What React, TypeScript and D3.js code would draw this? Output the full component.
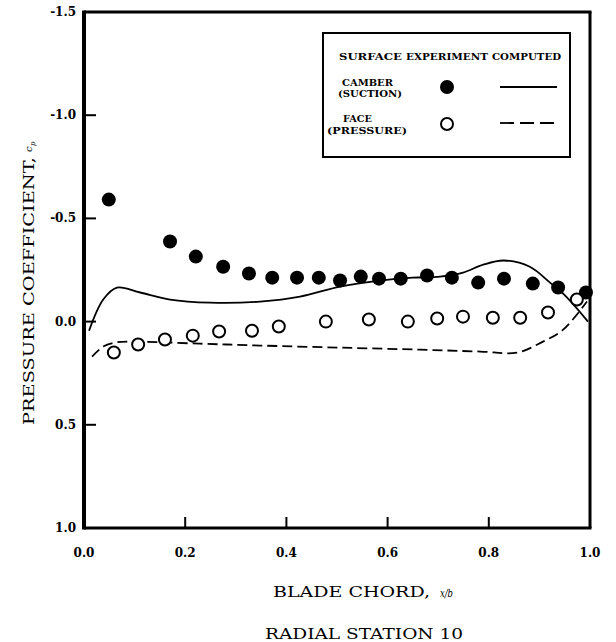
import React from "react";
import * as d3 from "d3";

// experiment, camber (suction) side - filled dots
const camberExpX = [0.049, 0.17, 0.221, 0.275, 0.326, 0.372, 0.421, 0.464, 0.506, 0.547, 0.583, 0.626, 0.678, 0.727, 0.779, 0.83, 0.887, 0.937, 0.992];
const camberExpCp = [-0.591, -0.388, -0.315, -0.266, -0.233, -0.213, -0.213, -0.213, -0.199, -0.218, -0.208, -0.208, -0.223, -0.213, -0.189, -0.208, -0.184, -0.165, -0.141];

// experiment, face (pressure) side - open dots
const faceExpX = [0.059, 0.107, 0.16, 0.215, 0.267, 0.332, 0.385, 0.478, 0.563, 0.64, 0.698, 0.749, 0.808, 0.862, 0.917, 0.974];
const faceExpCp = [0.15, 0.111, 0.087, 0.068, 0.048, 0.044, 0.024, 0.0, -0.01, 0.0, -0.015, -0.024, -0.019, -0.019, -0.044, -0.107];

// computed curves
const camberCompX = [0.01, 0.038, 0.065, 0.111, 0.17, 0.249, 0.348, 0.427, 0.506, 0.585, 0.65, 0.704, 0.749, 0.789, 0.83, 0.881, 0.921, 0.951, 0.996];
const camberCompCp = [0.044, -0.107, -0.165, -0.141, -0.107, -0.092, -0.097, -0.121, -0.17, -0.199, -0.213, -0.218, -0.237, -0.276, -0.296, -0.266, -0.189, -0.126, 0.0];

const faceCompX = [0.016, 0.038, 0.061, 0.091, 0.229, 0.348, 0.506, 0.664, 0.783, 0.856, 0.907, 0.947, 0.994];
const faceCompCp = [0.17, 0.121, 0.102, 0.097, 0.107, 0.116, 0.126, 0.136, 0.145, 0.15, 0.097, 0.039, -0.097];

const xTicks = [0, 0.2, 0.4, 0.6, 0.8, 1.0];
const yTicks = [-1.5, -1.0, -0.5, 0.0, 0.5, 1.0];

const serif = "'DejaVu Serif', serif";

const App = () => {
  const width = 616;
  const height = 642;

  const x = d3.scaleLinear().domain([0, 1]).range([84, 590]);
  const y = d3.scaleLinear().domain([-1.5, 1.0]).range([12, 528]);

  const line = d3
    .line<[number, number]>()
    .x((d) => x(d[0]))
    .y((d) => y(d[1]))
    .curve(d3.curveCatmullRom.alpha(0.5));

  const camberLine = line(camberCompX.map((v, i) => [v, camberCompCp[i]]));
  const faceLine = line(faceCompX.map((v, i) => [v, faceCompCp[i]]));

  const x0 = x(0), x1 = x(1), yTop = y(-1.5), yBot = y(1.0);

  return (
    <svg width={width} height={height} style={{ position: "absolute", left: 0, top: 0, background: "#fff" }}>
      <rect width={width} height={height} fill="#fff" />

      {/* computed curves */}
      <path d={camberLine || ""} fill="none" stroke="#000" strokeWidth={1.8} />
      <path d={faceLine || ""} fill="none" stroke="#000" strokeWidth={1.8} strokeDasharray="10 5" />

      {/* experiment points */}
      {camberExpX.map((v, i) => (
        <circle key={"c" + i} cx={x(v)} cy={y(camberExpCp[i])} r={7} fill="#000" />
      ))}
      {faceExpX.map((v, i) => (
        <circle key={"f" + i} cx={x(v)} cy={y(faceExpCp[i])} r={6} fill="#fff" stroke="#000" strokeWidth={2} />
      ))}

      {/* frame */}
      <line x1={x0} x2={x0} y1={yTop - 1.5} y2={yBot + 1.5} stroke="#000" strokeWidth={4} />
      <line x1={x0} x2={x1 + 1.5} y1={yTop} y2={yTop} stroke="#000" strokeWidth={3} />
      <line x1={x0} x2={x1 + 1.5} y1={yBot} y2={yBot} stroke="#000" strokeWidth={3} />
      <line x1={x1} x2={x1} y1={yTop} y2={yBot} stroke="#000" strokeWidth={3} />

      {/* y ticks */}
      {yTicks.map((t) => (
        <g key={"yt" + t}>
          {t > -1.5 && t < 1.0 && (
            <line x1={x0} x2={x0 + 12} y1={y(t)} y2={y(t)} stroke="#000" strokeWidth={2} />
          )}
          <text x={x0 - 8} y={y(t) + 4} textAnchor="end" fontFamily={serif} fontWeight="bold" fontSize={12}>
            {t.toFixed(1)}
          </text>
        </g>
      ))}

      {/* x ticks */}
      {xTicks.map((t) => (
        <g key={"xt" + t}>
          {t > 0 && t < 1 && (
            <line x1={x(t)} x2={x(t)} y1={yBot} y2={yBot - 11} stroke="#000" strokeWidth={2} />
          )}
          <text x={x(t)} y={557} textAnchor="middle" fontFamily={serif} fontWeight="bold" fontSize={12}>
            {t.toFixed(1)}
          </text>
        </g>
      ))}

      {/* axis titles */}
      <g transform="translate(34,291) rotate(-90)">
        <text x={0} y={0} textAnchor="middle" fontFamily={serif} fontSize={14} textLength={268} lengthAdjust="spacingAndGlyphs">
          PRESSURE COEFFICIENT,
        </text>
        <text x={139} y={-2} fontFamily={serif} fontStyle="italic" fontSize={10}>c</text>
        <text x={145} y={1} fontFamily={serif} fontStyle="italic" fontSize={7}>p</text>
      </g>
      <text x={273} y={597} fontFamily={serif} fontSize={15} textLength={157} lengthAdjust="spacingAndGlyphs">
        BLADE CHORD,
      </text>
      <text x={440} y={597} fontFamily={serif} fontStyle="italic" fontSize={11} textLength={13} lengthAdjust="spacingAndGlyphs">
        x/b
      </text>
      <text x={265} y={639} fontFamily={serif} fontSize={15} textLength={198} lengthAdjust="spacingAndGlyphs">
        RADIAL STATION 10
      </text>

      {/* legend */}
      <rect x={323} y={33} width={247} height={124} fill="#fff" stroke="#000" strokeWidth={2} />
      <g fontFamily={serif} fontWeight="bold" fontSize={9}>
        <text x={339} y={60} textLength={63} lengthAdjust="spacingAndGlyphs">SURFACE</text>
        <text x={406} y={60} textLength={82} lengthAdjust="spacingAndGlyphs">EXPERIMENT</text>
        <text x={492} y={60} textLength={69} lengthAdjust="spacingAndGlyphs">COMPUTED</text>
        <text x={342} y={86} textLength={51} lengthAdjust="spacingAndGlyphs">CAMBER</text>
        <text x={338} y={97} textLength={64} lengthAdjust="spacingAndGlyphs">(SUCTION)</text>
        <text x={343} y={122} textLength={29} lengthAdjust="spacingAndGlyphs">FACE</text>
        <text x={327} y={134} textLength={80} lengthAdjust="spacingAndGlyphs">(PRESSURE)</text>
      </g>
      <circle cx={447} cy={87} r={7} fill="#000" />
      <line x1={500} x2={557} y1={87} y2={87} stroke="#000" strokeWidth={1.8} />
      <circle cx={447} cy={124} r={6} fill="#fff" stroke="#000" strokeWidth={2} />
      <line x1={500} x2={557} y1={123} y2={123} stroke="#000" strokeWidth={1.8} strokeDasharray="14 6" />
    </svg>
  );
};

export default App;
